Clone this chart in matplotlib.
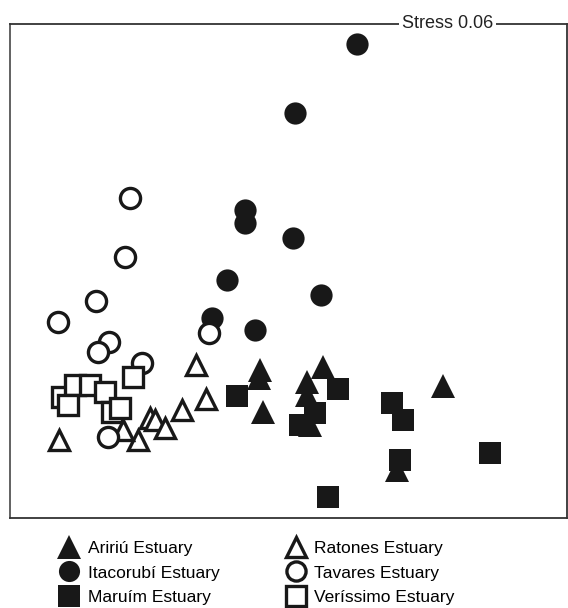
import matplotlib.pyplot as plt

plt.rcParams['font.family'] = ['Liberation Sans', 'DejaVu Sans']

# NMDS ordination coordinates (arbitrary units)
labels = ["Ariri\u00fa Estuary", "Itacorub\u00ed Estuary", "Maru\u00edm Estuary",
          "Ratones Estuary", "Tavares Estuary", "Ver\u00edssimo Estuary"]

aririu_x = [250, 313, 297, 297, 300, 253, 433, 387, 249]
aririu_y = [148, 151, 136, 123, 93, 106, 132, 48, 140]

itacorubi_x = [347, 285, 235, 235, 283, 217, 311, 202, 245]
itacorubi_y = [474, 405, 308, 295, 280, 238, 223, 200, 188]

maruim_x = [227, 328, 382, 393, 305, 290, 390, 480, 318]
maruim_y = [122, 129, 115, 98, 105, 93, 58, 65, 21]

ratones_x = [186, 49, 196, 172, 140, 145, 155, 128, 113]
ratones_y = [153, 78, 119, 108, 100, 98, 90, 78, 88]

tavares_x = [120, 115, 86, 48, 99, 88, 132, 199, 98]
tavares_y = [320, 261, 217, 196, 176, 166, 155, 185, 81]

verissimo_x = [52, 65, 80, 95, 58, 102, 110, 123]
verissimo_y = [121, 133, 133, 126, 113, 106, 110, 141]

stress = 0.06

fig = plt.figure(figsize=(5.68, 6.08), dpi=100)
ax = fig.add_axes([10 / 568, 90 / 608, 557 / 568, 494 / 608])

ink = "#181818"
filled = dict(linestyle="none", color=ink, markeredgewidth=0)
hollow = dict(linestyle="none", markerfacecolor="white", markeredgecolor=ink,
              markeredgewidth=2.4)

h1, = ax.plot(aririu_x, aririu_y, "^", markersize=17.5, label=labels[0], **filled)
h2, = ax.plot(itacorubi_x, itacorubi_y, "o", markersize=16, label=labels[1], **filled)
h3, = ax.plot(maruim_x, maruim_y, "s", markersize=16.5, label=labels[2], **filled)
h4, = ax.plot(ratones_x, ratones_y, "^", markersize=15, label=labels[3], **hollow)
h5, = ax.plot(tavares_x, tavares_y, "o", markersize=14.5, label=labels[4], **hollow)
h6, = ax.plot(verissimo_x, verissimo_y, "s", markersize=14.5, label=labels[5], **hollow)

ax.set_xlim(0, 557)
ax.set_ylim(0, 494)
ax.set_xticks([])
ax.set_yticks([])
for s in ax.spines.values():
    s.set_color("#333333")
    s.set_linewidth(1.3)
ax.spines["left"].set_color("#555555")

ax.text(0.785, 1.0, f"Stress {stress:.2f}", transform=ax.transAxes,
        ha="center", va="center", fontsize=13, color="#222222",
        bbox=dict(facecolor="white", edgecolor="none", pad=2))

fig.legend(handles=[h1, h2, h3, h4, h5, h6], ncol=2, frameon=False,
           loc="upper left", bbox_to_anchor=(52 / 568, 1 - 532 / 608),
           fontsize=12.5, handlelength=1.0, handletextpad=0.55,
           columnspacing=3.9, labelspacing=0.55, borderpad=0,
           markerscale=0.95)

fig.savefig("out.png", dpi=100)
